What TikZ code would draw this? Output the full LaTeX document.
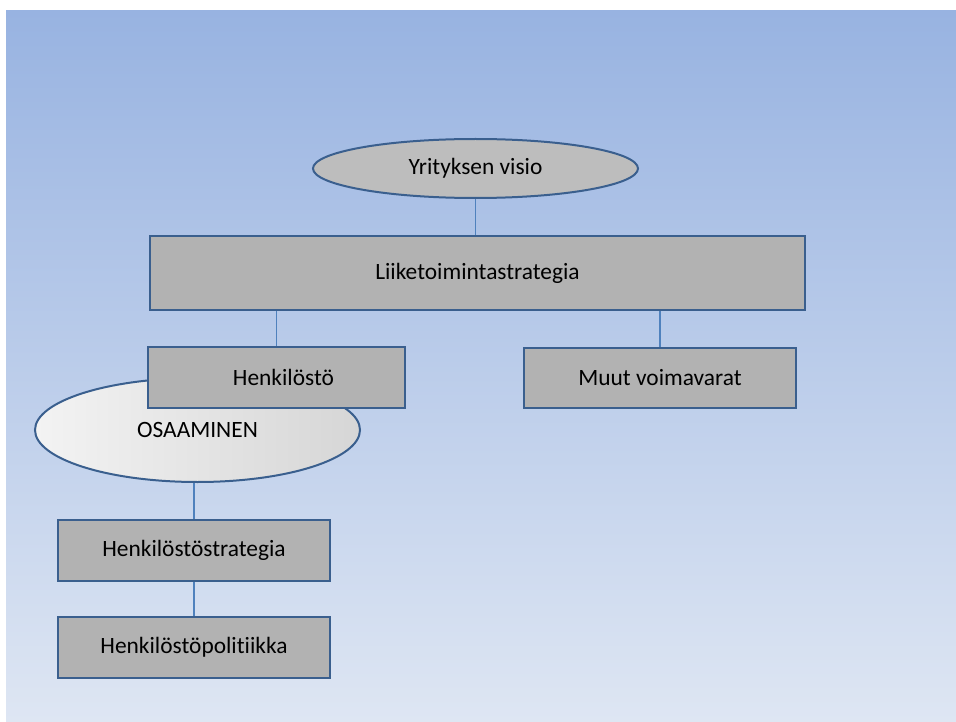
\documentclass[tikz,border=0pt]{standalone}
\usepackage{fontspec}
\setmainfont[Ligatures=NoCommon]{Carlito}
\usetikzlibrary{shapes.geometric}
\definecolor{bgtop}{HTML}{98B3E1}
\definecolor{bgbottom}{HTML}{DEE6F3}
\definecolor{boxfill}{HTML}{B2B2B2}
\definecolor{boxline}{HTML}{3A5F8E}
\definecolor{linkline}{HTML}{4F81BD}
\definecolor{ovalfill}{HTML}{BDBDBD}
\definecolor{skillleft}{HTML}{F3F3F3}
\definecolor{skillright}{HTML}{D6D6D6}
\tikzset{
  every node/.style={font=\fontsize{23.4}{28}\selectfont, text=black, inner sep=0pt},
  boxnode/.style={rectangle, draw=boxline, fill=boxfill, line width=2pt},
  ovalnode/.style={ellipse, draw=boxline, line width=2pt},
  link/.style={draw=linkline, line width=1.3pt},
}
\begin{document}
\begin{tikzpicture}[x=1pt, y=-1pt]
  % canvas and background panel
  \useasboundingbox (0,0) rectangle (956,722);
  \fill[white] (0,0) rectangle (956,722);
  \shade[top color=bgtop, bottom color=bgbottom] (6,11) rectangle (956,722);

  % nodes
  \node[ovalnode, fill=ovalfill, minimum width=325pt, minimum height=59pt]
    (vision) at (475.5,168.5) {Yrityksen visio};
  \node[boxnode, minimum width=655pt, minimum height=74pt]
    (business) at (477.5,273) {Liiketoimintastrategia};
  \node[ovalnode, left color=skillleft, right color=skillright, minimum width=325pt, minimum height=104pt]
    (skills) at (197.5,430) {\raisebox{-4pt}{OSAAMINEN}};
  \node[boxnode, minimum width=257pt, minimum height=61pt]
    (staff) at (276.5,377.5) {\hspace*{14pt}Henkilöstö};
  \node[boxnode, minimum width=272pt, minimum height=60pt]
    (other) at (660,378) {Muut voimavarat};
  \node[boxnode, minimum width=272pt, minimum height=61pt]
    (hrstrat) at (194,550.5) {Henkilöstöstrategia};
  \node[boxnode, minimum width=272pt, minimum height=61pt]
    (hrpolicy) at (194,647.5) {Henkilöstöpolitiikka};

  % connectors
  \draw[link] (vision.south) -- (vision.south |- business.north);
  \draw[link] (staff.north |- business.south) -- (staff.north);
  \draw[link] (other.north |- business.south) -- (other.north);
  \draw[link] (hrstrat.north |- skills.south) -- (hrstrat.north);
  \draw[link] (hrstrat.south) -- (hrpolicy.north);
\end{tikzpicture}
\end{document}
